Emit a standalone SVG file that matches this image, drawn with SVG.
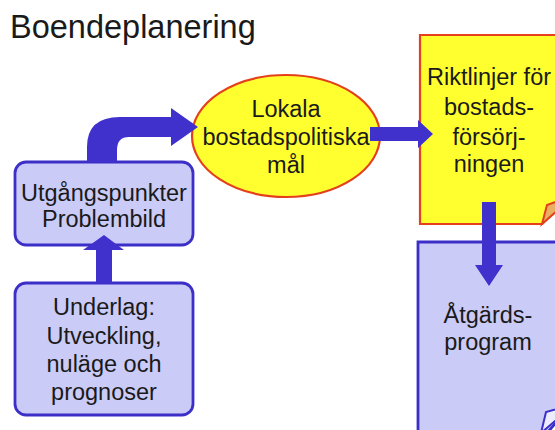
<svg xmlns="http://www.w3.org/2000/svg" width="555" height="430" viewBox="0 0 555 430">
<defs>
<style>
text{font-family:"Liberation Sans",Arial,sans-serif;fill:#1a1a1a;text-anchor:middle}
.t{font-size:23.5px}
.lav{fill:#cbcbf8;stroke:#3c2fc8;stroke-width:2.8}
.yel{fill:#ffff30;stroke:#e4401c;stroke-width:2.2}
.arr{fill:#4030cc;stroke:none}
</style>
</defs>
<rect width="555" height="430" fill="#ffffff"/>
<text x="10" y="38" style="font-size:32.5px;text-anchor:start">Boendeplanering</text>

<g id="utgang">
<rect class="lav" x="15" y="162" width="178" height="83" rx="11"/>
<text class="t" x="104" y="201">Utgångspunkter</text>
<text class="t" x="104" y="227">Problembild</text>
</g>

<g id="underlag">
<rect class="lav" x="15" y="283" width="178" height="132" rx="11"/>
<text class="t" x="104" y="315">Underlag:</text>
<text class="t" x="104" y="344">Utveckling,</text>
<text class="t" x="104" y="372">nuläge och</text>
<text class="t" x="104" y="400">prognoser</text>
</g>

<g id="mal">
<ellipse class="yel" cx="286" cy="136" rx="94" ry="61"/>
<text class="t" x="286" y="117">Lokala</text>
<text class="t" x="286" y="145">bostadspolitiska</text>
<text class="t" x="286" y="173">mål</text>
</g>

<g id="riktlinjer">
<path class="yel" d="M420,35 H575 V192 L542,224 H420 Z"/>
<path d="M542,224 L547,205 L575,195 Z" fill="#e8b060" stroke="#e4401c" stroke-width="2"/>
<text class="t" x="489" y="85">Riktlinjer för</text>
<text class="t" x="489" y="115">bostads-</text>
<text class="t" x="489" y="145">försörj-</text>
<text class="t" x="489" y="172">ningen</text>
</g>

<g id="atgard">
<path class="lav" d="M418,242 H575 V400 L537,445 H418 Z"/>
<path d="M541,433 L546,412 L575,404 Z" fill="#ececff" stroke="#3c2fc8" stroke-width="2"/>
<text class="t" x="488" y="323">Åtgärds-</text>
<text class="t" x="488" y="350">program</text>
</g>

<g id="connectors">
<path class="arr" d="M96,283 V250 H83 L104,235 L124,250 H112 V283 Z"/>
<path class="arr" d="M87,162 V147 Q87,117 120,117 H171 V108 L198,127 L171,146 V137 H129 Q117,137 117,150 V162 Z"/>
<path class="arr" d="M370,127 H418 V120 L433,134 L418,148 V141 H370 Z"/>
<path class="arr" d="M482,202 H496 V265 H503 L489,286 L475,265 H482 Z"/>
</g>
</svg>
